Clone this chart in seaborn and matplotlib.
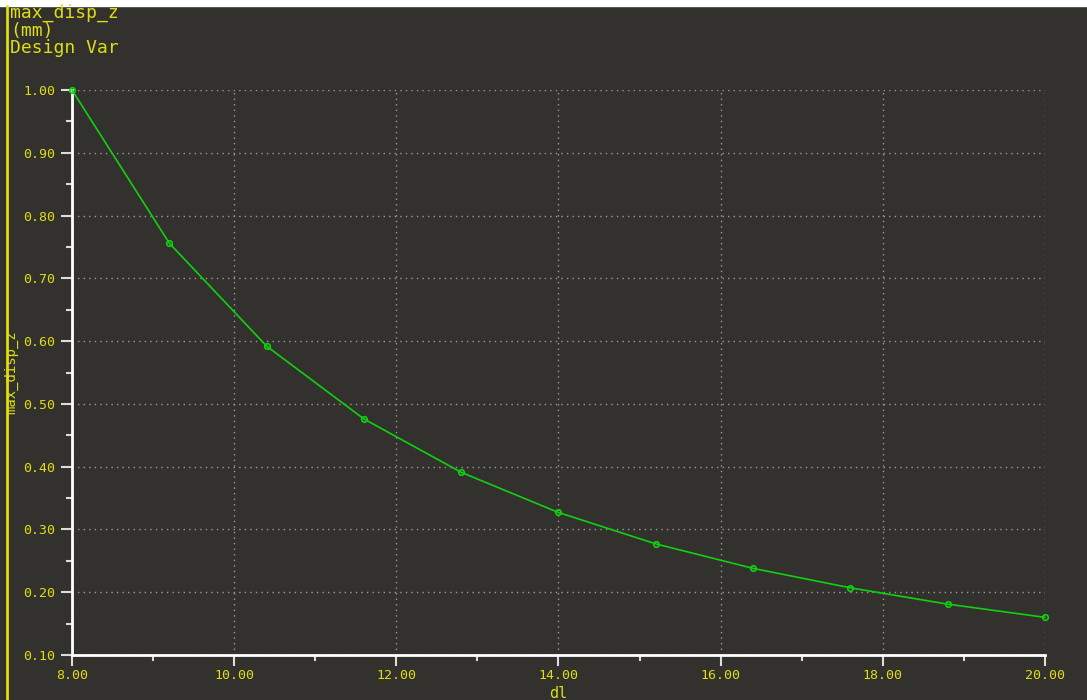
import numpy as np
import pandas as pd
import seaborn as sns
import matplotlib.pyplot as plt
from matplotlib.lines import Line2D
from matplotlib.patches import Rectangle
from matplotlib.ticker import MultipleLocator, FormatStrFormatter

# design variable dl and resulting max_disp_z (mm)
dl = [8.0, 9.2, 10.4, 11.6, 12.8, 14.0, 15.2, 16.4, 17.6, 18.8, 20.0]
max_disp_z = [1.000, 0.756, 0.592, 0.476, 0.391, 0.327, 0.277, 0.238, 0.207, 0.181, 0.160]

BG = "#33312d"
YELLOW = "#dede12"
GREEN = "#10d010"
GRID = "#9a9a96"

df = pd.DataFrame({"dl": dl, "max_disp_z": max_disp_z})

sns.set_style("dark", {"xtick.bottom": True, "ytick.left": True})
plt.rcParams["font.family"] = ["DejaVu Sans Mono", "DejaVu Sans"]

fig = plt.figure(figsize=(10.87, 7.0), dpi=100, facecolor=BG)
ax = fig.add_axes([72 / 1087, 45 / 700, (1045 - 72) / 1087, (655 - 90) / 700])
ax.set_facecolor(BG)

sns.lineplot(data=df, x="dl", y="max_disp_z", ax=ax, color=GREEN, lw=1.2,
             marker="o", markersize=4, markerfacecolor="none",
             markeredgecolor=GREEN, markeredgewidth=1.2, zorder=5, clip_on=False)

ax.set_xlim(8, 20)
ax.set_ylim(0.10, 1.00)
ax.xaxis.set_major_locator(MultipleLocator(2))
ax.xaxis.set_minor_locator(MultipleLocator(1))
ax.yaxis.set_major_locator(MultipleLocator(0.1))
ax.yaxis.set_minor_locator(MultipleLocator(0.05))
ax.xaxis.set_major_formatter(FormatStrFormatter("%.2f"))
ax.yaxis.set_major_formatter(FormatStrFormatter("%.2f"))

ax.grid(True, which="major", color=GRID, linestyle=(0, (1, 3)), lw=1.0)
for s in ["top", "right"]:
    ax.spines[s].set_visible(False)
for s in ["left", "bottom"]:
    ax.spines[s].set_visible(True)
    ax.spines[s].set_color("white")
    ax.spines[s].set_linewidth(2)

ax.tick_params(axis="both", which="major", direction="out", length=8, width=1.5,
               color="#dcdcdc", labelcolor=YELLOW, labelsize=9.5, pad=4,
               bottom=True, left=True)
ax.tick_params(axis="x", which="major", pad=2)
ax.tick_params(axis="both", which="minor", direction="out", length=4, width=1.5,
               color="#dcdcdc", bottom=True, left=True)

ax.set_xlabel("dl", color=YELLOW, fontsize=11)
ax.set_ylabel("max_disp_z", color=YELLOW, fontsize=10)
ax.xaxis.set_label_coords(0.5, -0.054)
ax.yaxis.set_label_coords(-0.055, 0.5)

# header text and frame decorations
fig.text(10 / 1087, 1 - 4 / 700, "max_disp_z\n(mm)\nDesign Var", color=YELLOW,
         fontsize=13, va="top", ha="left", linespacing=0.95)
fig.add_artist(Rectangle((0, 1 - 6 / 700), 1, 6 / 700, transform=fig.transFigure,
                         color="white", zorder=0))
fig.add_artist(Line2D([7 / 1087, 7 / 1087], [0, 1 - 6 / 700], transform=fig.transFigure,
                      color=YELLOW, lw=2))

fig.savefig("out.png", dpi=100, facecolor=BG)
